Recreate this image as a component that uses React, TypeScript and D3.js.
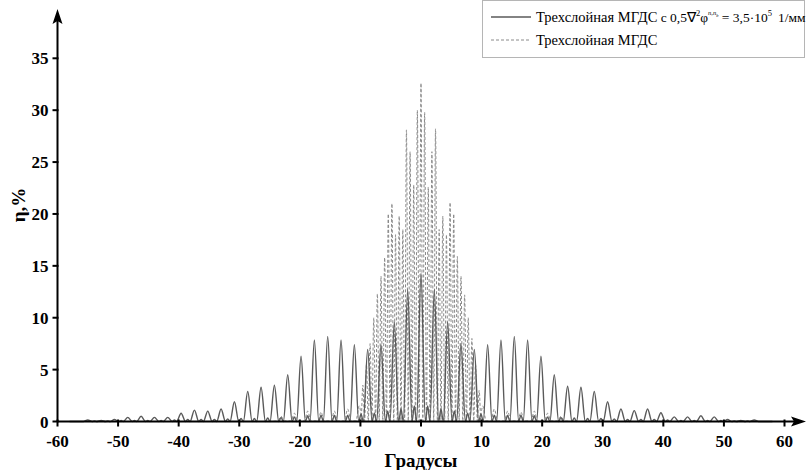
import React from "react";
import * as d3 from "d3";

// ---- data ----
const solidPeakAngles = [
  -55, -52.8, -50.6, -48.4, -46.2, -44, -41.8, -39.6, -37.4, -35.2, -33, -30.8, -28.6,
  -26.4, -24.2, -22, -19.8, -17.6, -15.4, -13.2, -11, -8.8, -6.6, -4.4, -2.2, 0,
  2.2, 4.4, 6.6, 8.8, 11, 13.2, 15.4, 17.6, 19.8, 22, 24.2, 26.4, 28.6, 30.8, 33,
  35.2, 37.4, 39.6, 41.8, 44, 46.2, 48.4, 50.6, 52.8, 55,
];
const solidPeakValues = [
  0.15, 0.1, 0.2, 0.4, 0.5, 0.4, 0.4, 0.8, 1.1, 1.0, 1.2, 1.9, 2.9,
  3.3, 3.5, 4.5, 6.3, 7.85, 8.2, 7.85, 7.4, 6.95, 7.4, 9.6, 12.7, 14.3,
  12.7, 9.6, 7.5, 6.95, 7.4, 7.85, 8.2, 7.85, 6.3, 4.5, 3.4, 3.3, 2.9, 1.9, 1.2,
  1.05, 1.2, 0.85, 0.45, 0.45, 0.55, 0.45, 0.2, 0.1, 0.15,
];
// small side lobes between neighbouring main peaks (50 values)
const solidSideLobes = [
  0.05, 0.05, 0.1, 0.1, 0.1, 0.1, 0.15, 0.2, 0.2, 0.2, 0.25, 0.3,
  0.3, 0.35, 0.4, 0.45, 0.55, 0.6, 0.6, 0.6, 0.7, 0.8, 1.0, 1.2, 1.5,
  1.5, 1.2, 1.0, 0.8, 0.7, 0.6, 0.6, 0.6, 0.55, 0.45, 0.4, 0.35, 0.3,
  0.3, 0.25, 0.2, 0.2, 0.2, 0.15, 0.1, 0.1, 0.1, 0.1, 0.05, 0.05,
];

const dashedPeakAngles = [
  -23.1, -20.9, -18.7, -16.5, -14.3, -12.1,
  -10.2, -9.6, -9.0, -8.4, -7.8, -7.2, -6.6, -6.0, -5.4, -4.8, -4.2, -3.6, -3.0,
  -2.4, -1.8, -1.2, -0.6, 0, 0.6, 1.2, 1.8, 2.4, 3.0, 3.6, 4.2, 4.8, 5.4, 6.0,
  6.6, 7.2, 7.8, 8.4, 9.0, 9.6, 10.2,
  12.1, 14.3, 16.5, 18.7, 20.9, 23.1,
];
const dashedPeakValues = [
  0.5, 0.8, 1.0, 0.9, 1.0, 1.2,
  1.5, 3.5, 5.5, 7.5, 10, 12.3, 14, 15.8, 20, 21, 18, 19.8, 18.5,
  28.1, 26, 22.8, 30, 32.6, 29.8, 22.6, 26, 28.2, 18.5, 19.8, 18, 21.1, 20, 15.9,
  14, 12.2, 10, 8, 5.5, 3, 1.5,
  1.2, 1.0, 0.9, 1.0, 0.8, 0.5,
];

const xTicks = [-60, -50, -40, -30, -20, -10, 0, 10, 20, 30, 40, 50, 60];
const yTicks = [0, 5, 10, 15, 20, 25, 30, 35];

const legendName = "Трехслойная МГДС";
const legendSolidTail = " с 0,5∇";
const xTitle = "Градусы";
const yTitle = "η,%";

export default function App() {
  const W = 806;
  const H = 470;
  const x = d3.scaleLinear().domain([-60, 60]).range([57.5, 784.5]);
  const y = d3.scaleLinear().domain([0, 35]).range([421.5, 58.3]);

  const half = 0.72;
  const solidPts: [number, number][] = [];
  solidPeakAngles.forEach((a, i) => {
    solidPts.push([a - half, 0]);
    solidPts.push([a, solidPeakValues[i]]);
    solidPts.push([a + half, 0]);
    if (i < solidPeakAngles.length - 1) {
      const mid = (a + solidPeakAngles[i + 1]) / 2;
      solidPts.push([mid, solidSideLobes[i]]);
    }
  });
  const solidAll: [number, number][] = [[-58, 0], ...solidPts, [58, 0]];

  const dashedPts: [number, number][] = [[-26, 0]];
  dashedPeakAngles.forEach((a, i) => {
    const prev = i > 0 ? dashedPeakAngles[i - 1] : a - 1;
    const next = i < dashedPeakAngles.length - 1 ? dashedPeakAngles[i + 1] : a + 1;
    const wl = Math.min(0.3, (a - prev) / 2);
    const wr = Math.min(0.3, (next - a) / 2);
    const big = dashedPeakValues[i] > 2;
    dashedPts.push([a - (big ? wl : 0.55), 0.05]);
    dashedPts.push([a, dashedPeakValues[i]]);
    dashedPts.push([a + (big ? wr : 0.55), 0.05]);
  });
  dashedPts.push([26, 0]);

  const line = d3
    .line<[number, number]>()
    .x((d) => x(d[0]))
    .y((d) => y(d[1]))
    .curve(d3.curveMonotoneX);

  const font = "'Liberation Serif', 'Times New Roman', serif";
  const x0 = x(-60);
  const y0 = y(0);

  return (
    <svg width={W} height={H} style={{ position: "absolute", left: 0, top: 0, background: "#fff" }}>
      <rect x={0} y={0} width={W} height={H} fill="#fff" />
      <path d={line(dashedPts) || ""} fill="none" stroke="#8a8a8a" strokeWidth={1} strokeDasharray="3,2" />
      <path d={line(solidAll) || ""} fill="none" stroke="#5a5a5a" strokeWidth={1.4} />

      {/* axes */}
      <line x1={x0} y1={y0} x2={798} y2={y0} stroke="#000" strokeWidth={2} />
      <path d={`M806,${y0} L791,${y0 - 5} L794,${y0} L791,${y0 + 5} Z`} fill="#000" />
      <line x1={x0} y1={y0} x2={x0} y2={18} stroke="#000" strokeWidth={2} />
      <path d={`M${x0},9 L${x0 - 5},24 L${x0},21 L${x0 + 5},24 Z`} fill="#000" />

      {xTicks.map((t) => (
        <g key={"xt" + t}>
          <line x1={x(t)} x2={x(t)} y1={y0 - 2} y2={y0 + 5} stroke="#000" strokeWidth={2} />
          <text x={x(t)} y={447} textAnchor="middle" fontFamily={font} fontWeight="bold" fontSize={17}>
            {t}
          </text>
        </g>
      ))}
      {yTicks.map((t) => (
        <g key={"yt" + t}>
          <line x1={x0 - 5} x2={x0 + 1} y1={y(t)} y2={y(t)} stroke="#000" strokeWidth={2} />
          <text x={x0 - 9} y={y(t) + 6} textAnchor="end" fontFamily={font} fontWeight="bold" fontSize={17}>
            {t}
          </text>
        </g>
      ))}

      <text x={421} y={467} textAnchor="middle" fontFamily={font} fontWeight="bold" fontSize={19}>
        {xTitle}
      </text>
      <text
        transform={`translate(25,205) rotate(-90)`}
        textAnchor="middle"
        fontFamily={font}
        fontWeight="bold"
        fontSize={19}
      >
        {yTitle}
      </text>

      {/* legend */}
      <rect x={482.5} y={0.5} width={322} height={57} fill="#fff" stroke="#b5b5b5" strokeWidth={1} />
      <line x1={491} x2={531} y1={17} y2={17} stroke="#5a5a5a" strokeWidth={1.4} />
      <text x={536} y={22} fontFamily={font} fontSize={14.5}>
        {legendName}
        <tspan fontSize={13.5}>{legendSolidTail}</tspan>
        <tspan fontSize={8.5} dy={-6}>2</tspan>
        <tspan fontSize={13.5} dy={6}>φ</tspan>
        <tspan fontSize={6.5} fontStyle="italic" dy={-7}>n,n</tspan>
        <tspan fontSize={4.5} fontStyle="italic" dy={2}>b</tspan>
        <tspan fontSize={13.5} dy={5}> = 3,5·10</tspan>
        <tspan fontSize={8.5} dy={-6}>5</tspan>
        <tspan fontSize={13.5} dy={6}>{"\u00a0\u20091/мм"}</tspan>
      </text>
      <line x1={491} x2={531} y1={40} y2={40} stroke="#8a8a8a" strokeWidth={1} strokeDasharray="3,2" />
      <text x={536} y={45} fontFamily={font} fontSize={14.5}>
        {legendName}
      </text>
    </svg>
  );
}
